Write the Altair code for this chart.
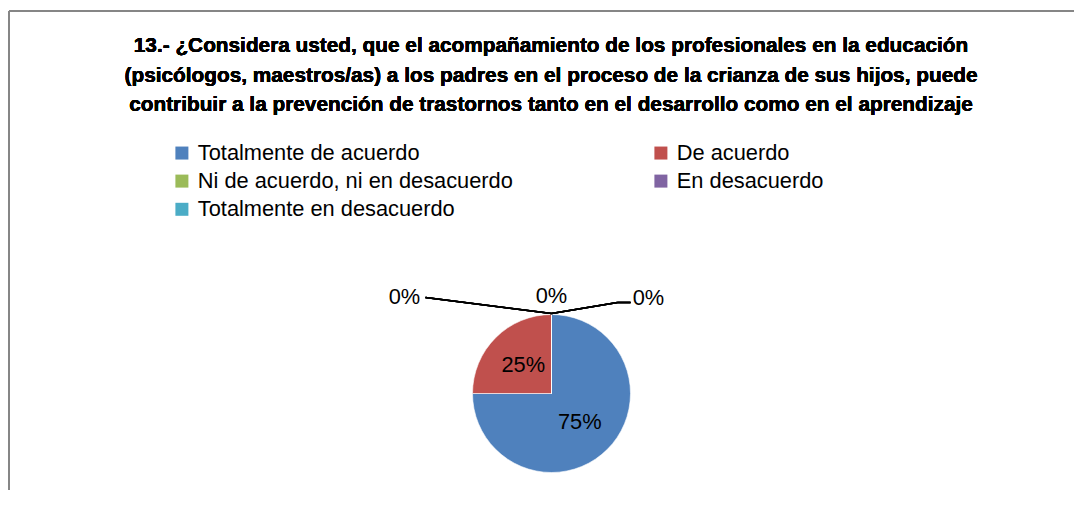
import altair as alt
import pandas as pd

categories = ["Totalmente de acuerdo", "De acuerdo", "Ni de acuerdo, ni en desacuerdo",
              "En desacuerdo", "Totalmente en desacuerdo"]
values = [75, 25, 0, 0, 0]
colors = ["#4F81BD", "#C0504D", "#9BBB59", "#8064A2", "#4BACC6"]
title_lines = [
    "13.- ¿Considera usted, que el acompañamiento de los profesionales en la educación",
    "(psicólogos, maestros/as) a los padres en el proceso de la crianza de sus hijos, puede",
    "contribuir a la prevención de trastornos tanto en el desarrollo como en el aprendizaje",
]

df = pd.DataFrame({
    "cat": categories,
    "val": values,
    "ord": list(range(len(categories))),
    "label": [f"{v}%" for v in values],
})

FONT = "Liberation Sans"
FS = 21.8
W, H = 1060, 470
PADL, PADT = 6, 6
OX, OY = 8 + PADL, 8 + PADT
CX, CY = 551.5 - OX, 393.5 - OY
R = 79
TOP = CY - R

base = alt.Chart(df)

pie = base.mark_arc(outerRadius=R, stroke="white", strokeWidth=0.6).encode(
    theta=alt.Theta("val:Q", stack=True),
    color=alt.Color(
        "cat:N",
        sort=categories,
        scale=alt.Scale(domain=categories, range=colors),
        legend=alt.Legend(
            title=None, orient="none", legendX=171 - OX, legendY=142 - OY,
            direction="horizontal", columns=2, columnPadding=137, rowPadding=5.2, padding=0,
            symbolType="square", symbolSize=169, symbolStrokeWidth=0,
            labelFont=FONT, labelFontSize=FS, labelColor="black",
            labelOffset=5, labelLimit=0,
        ),
    ),
    order=alt.Order("ord:Q"),
    x=alt.value(CX), y=alt.value(CY),
)

pct = base.transform_filter("datum.val > 0").mark_text(
    radius=40, fontSize=FS, font=FONT, color="black"
).encode(
    theta=alt.Theta("val:Q", stack=True),
    order=alt.Order("ord:Q"),
    text="label:N",
    x=alt.value(CX), y=alt.value(CY),
)

zeros = base.transform_filter("datum.val == 0")
z_left = zeros.transform_filter(alt.datum.ord == 2).mark_text(fontSize=FS, font=FONT, color="black").encode(
    text="label:N", x=alt.value(CX - 147), y=alt.value(TOP - 18))
z_mid = zeros.transform_filter(alt.datum.ord == 3).mark_text(fontSize=FS, font=FONT, color="black").encode(
    text="label:N", x=alt.value(CX), y=alt.value(TOP - 19))
z_right = zeros.transform_filter(alt.datum.ord == 4).mark_text(fontSize=FS, font=FONT, color="black").encode(
    text="label:N", x=alt.value(CX + 97), y=alt.value(TOP - 17))

lk = dict(color="black", strokeWidth=1.5)
lead1 = alt.Chart(df).mark_rule(**lk).encode(
    x=alt.value(CX - 126), y=alt.value(TOP - 17), x2=alt.value(CX), y2=alt.value(TOP - 1))
lead2 = alt.Chart(df).mark_rule(**lk).encode(
    x=alt.value(CX), y=alt.value(TOP - 1), x2=alt.value(CX + 66), y2=alt.value(TOP - 12))
lead3 = alt.Chart(df).mark_rule(**lk).encode(
    x=alt.value(CX + 66), y=alt.value(TOP - 12), x2=alt.value(CX + 79), y2=alt.value(TOP - 12))

bk = dict(color="#868686", strokeWidth=2)
border_top = alt.Chart(df).mark_rule(**bk).encode(
    x=alt.value(-PADL + 1), x2=alt.value(W), y=alt.value(11 - OY), y2=alt.value(11 - OY))
border_left = alt.Chart(df).mark_rule(**bk).encode(
    x=alt.value(-PADL + 1), x2=alt.value(-PADL + 1), y=alt.value(11 - OY), y2=alt.value(H + 6))

title = alt.Chart(df).mark_text(
    font=FONT, fontSize=20.8, fontWeight="bold", color="black",
    lineHeight=29.5, baseline="middle", align="center",
).encode(
    x=alt.value(551 - OX), y=alt.value(46 - OY), text=alt.value(title_lines)
)

chart = alt.layer(
    border_top, border_left, title, pie, pct, lead1, lead2, lead3, z_left, z_mid, z_right
).properties(
    width=W, height=H,
    autosize=alt.AutoSizeParams(type="none"),
    padding={"left": PADL, "top": PADT, "right": 0, "bottom": 6},
).configure_view(stroke=None)

chart.save("out.html", embed_options={"renderer": "svg", "actions": False})
